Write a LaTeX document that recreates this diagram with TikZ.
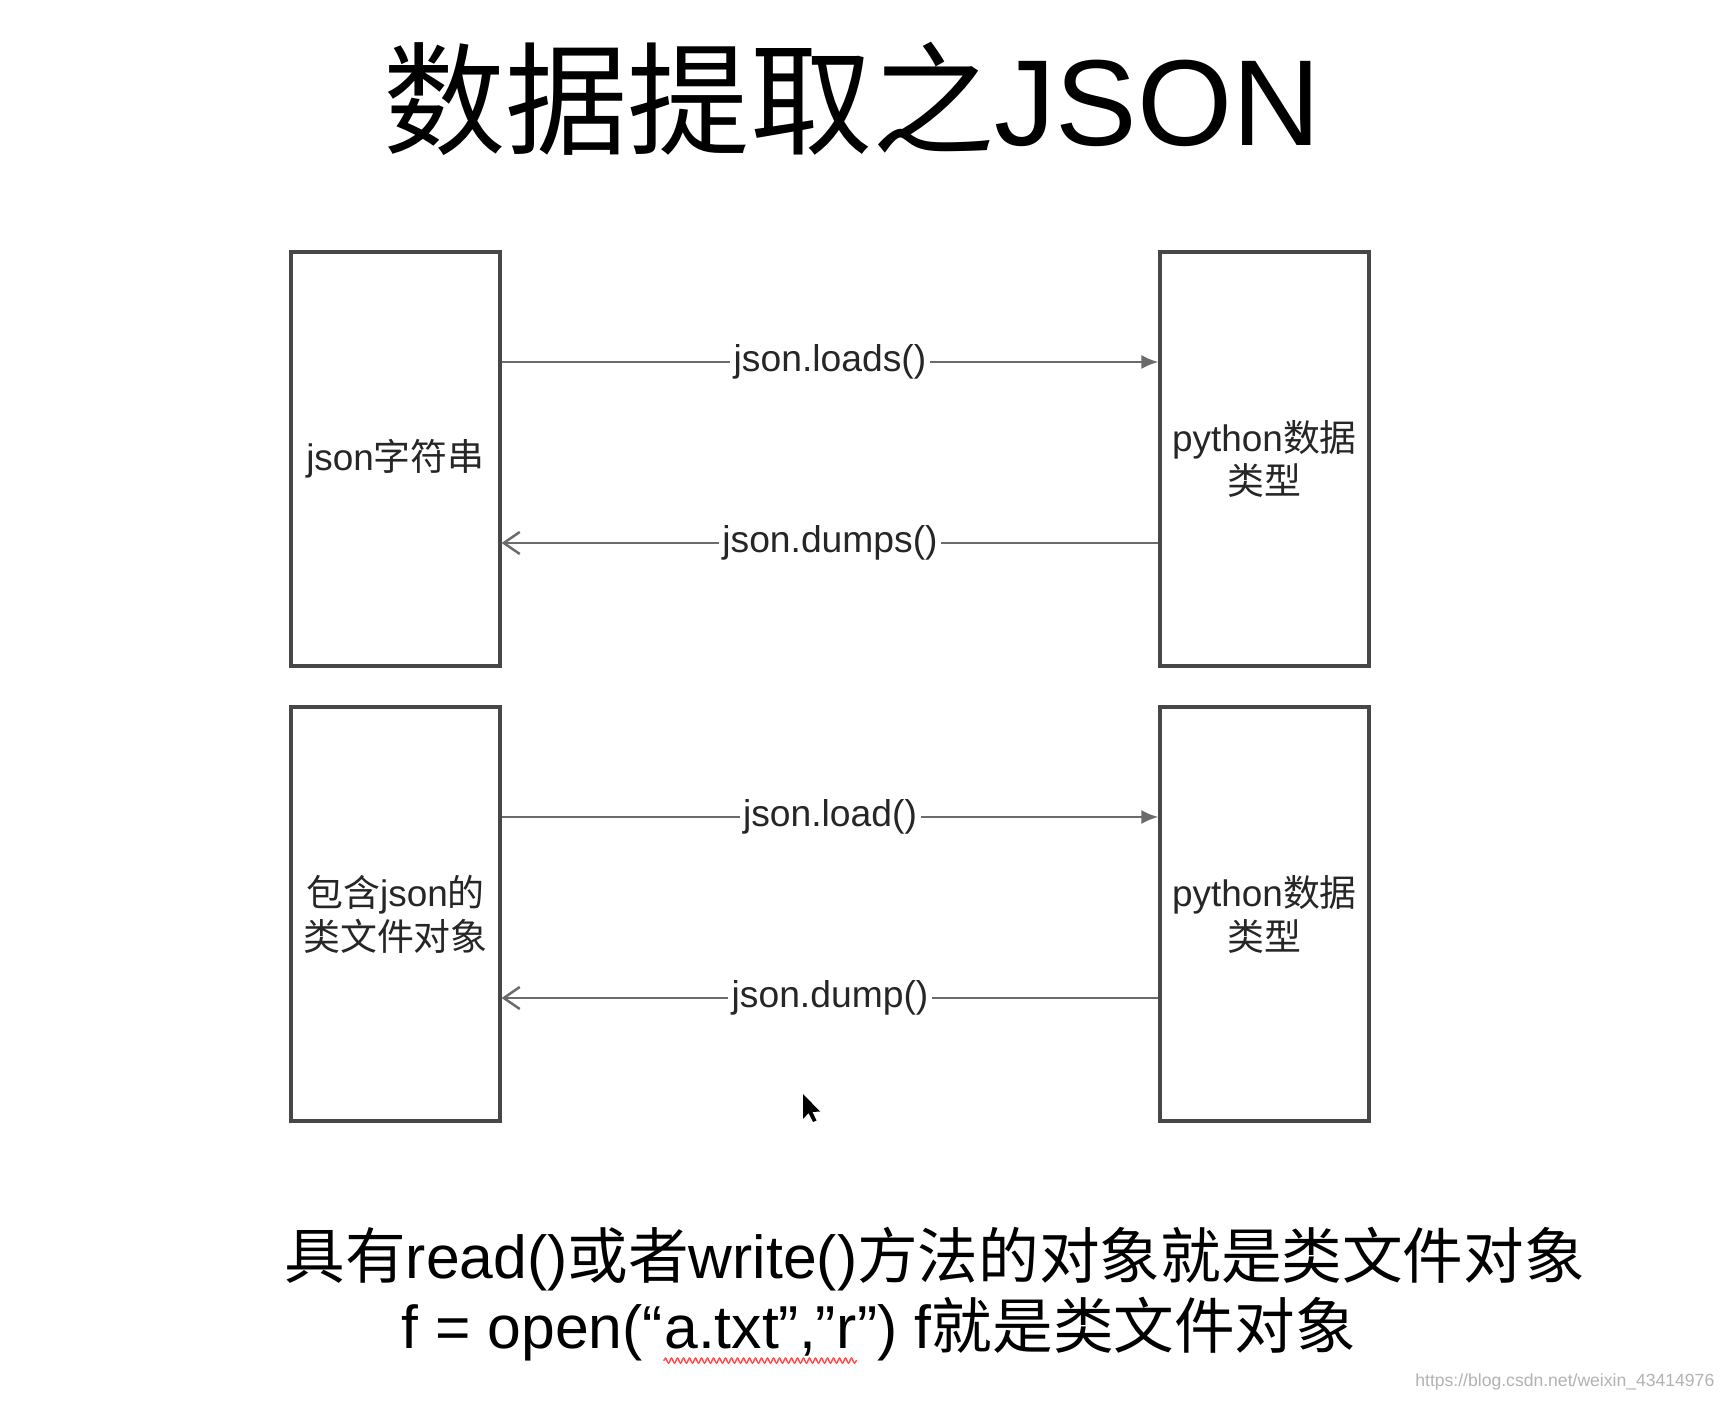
\documentclass[tikz,border=0pt]{standalone}
\usepackage{fontspec}
\setmainfont{Liberation Sans}
\newfontfamily\cjk{Noto Sans CJK SC}
\usetikzlibrary{arrows.meta, positioning, decorations.pathmorphing}
\colorlet{boxline}{black!72}
\colorlet{callline}{black!58}
\colorlet{linkgray}{black!30}

\begin{document}
\begin{tikzpicture}[>=Latex,
    databox/.style={draw=boxline, line width=0.9pt, minimum width=2.09cm, minimum height=4.14cm,
        align=center, text=black!85, font=\fontsize{10.5pt}{12.5pt}\selectfont},
    callarrow/.style={callline, line width=0.7pt},
    calllabel/.style={fill=white, text=black!85, inner sep=1pt, font=\fontsize{10.6pt}{13pt}\selectfont},
    notetext/.style={inner sep=0pt, font=\fontsize{17.25pt}{21pt}\selectfont}]
    \useasboundingbox (0,0) rectangle (17.24,14);
    \fill[white] (0,0) rectangle (17.24,14);

    \node (title) at (8.52,13.01) {\fontsize{34.8pt}{40pt}\selectfont{\cjk 数据提取之}JSON};

    \node[databox] (jsonstr) at (3.955,9.41) {json{\cjk 字符串}};
    \node[databox] (pytop) at (12.645,9.41) {python{\cjk 数据}\\{\cjk 类型}};
    \node[databox] (filelike) at (3.955,4.86) {{\cjk 包含}json{\cjk 的}\\{\cjk 类文件对象}};
    \node[databox] (pybot) at (12.645,4.86) {python{\cjk 数据}\\{\cjk 类型}};

    \draw[callarrow, -{Latex[length=1.7mm, width=1.4mm]}] ([yshift=0.97cm]jsonstr.east) -- node[calllabel] {json.loads()} ([yshift=0.97cm]pytop.west);
    \draw[callarrow, -{Straight Barb[length=1.6mm, width=2.2mm]}] ([yshift=-0.84cm]pytop.west) -- node[calllabel] {json.dumps()} ([yshift=-0.84cm]jsonstr.east);
    \draw[callarrow, -{Latex[length=1.7mm, width=1.4mm]}] ([yshift=0.97cm]filelike.east) -- node[calllabel] {json.load()} ([yshift=0.97cm]pybot.west);
    \draw[callarrow, -{Straight Barb[length=1.6mm, width=2.2mm]}] ([yshift=-0.84cm]pybot.west) -- node[calllabel] {json.dump()} ([yshift=-0.84cm]filelike.east);

    \fill[black] (8.03,3.06) -- ++(0,-0.25) -- ++(0.055,0.06) -- ++(0.045,-0.09) -- ++(0.035,0.015) -- ++(-0.04,0.085) -- ++(0.075,0.005) -- cycle;

    \node[notetext, anchor=west] (note) at (2.84,1.41) {{\cjk 具有}read(){\cjk 或者}write(){\cjk 方法的对象就是类文件对象}};
    \node[notetext, anchor=west] (ex1) at (4.01,0.67) {f = open(“};
    \node[notetext, anchor=base west] (ex2) at (ex1.base east) {a.txt”,”r};
    \node[notetext, anchor=base west] (ex3) at (ex2.base east) {”) f{\cjk 就是类文件对象}};
    \draw[red!70, line width=0.4pt, decorate, decoration={snake, amplitude=0.25mm, segment length=0.6mm}]
        ([yshift=-0.12cm]ex2.base west) -- ([yshift=-0.12cm]ex2.base east);

    \node[linkgray, anchor=east, inner sep=0pt, font=\fontsize{5pt}{6pt}\selectfont] (link) at (17.15,0.18) {https://blog.csdn.net/weixin\_43414976};
\end{tikzpicture}
\end{document}
